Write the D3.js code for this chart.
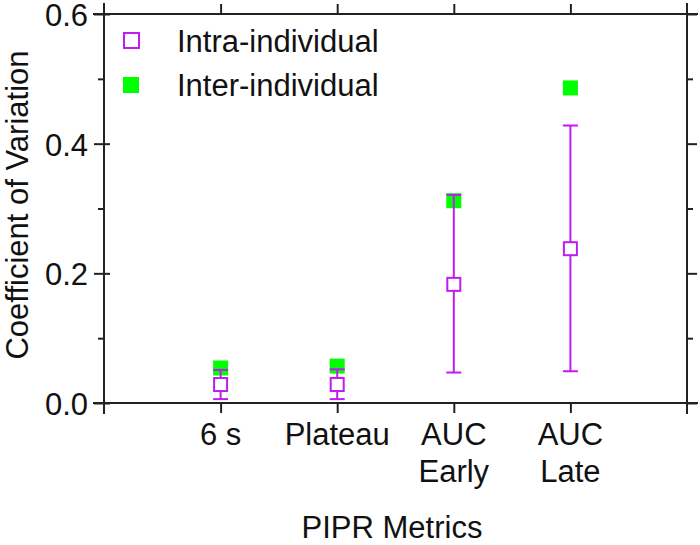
<!DOCTYPE html>
<html>
<head>
<meta charset="utf-8">
<script src="https://cdn.jsdelivr.net/npm/d3@7"></script>
<style>
  html, body { margin: 0; padding: 0; background: #fff; }
  svg { display: block; }
  text { font-family: "Liberation Sans", Arial, sans-serif; fill: #111; }
</style>
</head>
<body>
<svg id="chart" width="700" height="545"></svg>
<script>
// ---- data ----
const categories = ["6 s", "Plateau", "AUC\nEarly", "AUC\nLate"];
const intraMean = [0.0285, 0.0285, 0.183, 0.238];
const intraLow  = [0.006, 0.006, 0.047, 0.049];
const intraHigh = [0.051, 0.052, 0.321, 0.428];
const interCV   = [0.054, 0.057, 0.312, 0.486];
const yMajorTicks = [0, 0.2, 0.4, 0.6];
const yMinorTicks = [0.1, 0.3, 0.5];
const legendLabels = ["Intra-individual", "Inter-individual"];

const purple = "#c01cf0";
const green = "#00ff00";
const axisColor = "#222";
const FS = 31;

const svg = d3.select("#chart");
const L = 104, R = 687, T = 14, B = 403;
const x = d3.scaleLinear().domain([0, categories.length + 1]).range([L, R]);
const y = d3.scaleLinear().domain([0, 0.6]).range([B, T]);
const idx = categories.map((c, i) => i);

function styleAxis(g) {
  g.select(".domain").remove();
  g.selectAll("line").attr("stroke", axisColor).attr("stroke-width", 2);
  g.selectAll("text").attr("font-size", FS).attr("fill", "#111")
    .attr("font-family", '"Liberation Sans", Arial, sans-serif');
}

// left axis (major with labels, outward)
svg.append("g").attr("transform", `translate(${L},0)`)
  .call(d3.axisLeft(y).tickValues(yMajorTicks).tickFormat(d3.format(".1f")).tickSize(10).tickPadding(6))
  .call(styleAxis)
  .call(g => g.selectAll("text").attr("dy", "0.37em"));
// left major inner part
svg.append("g").attr("transform", `translate(${L},0)`)
  .call(d3.axisRight(y).tickValues(yMajorTicks).tickFormat("").tickSize(6))
  .call(styleAxis);
// left minor
svg.append("g").attr("transform", `translate(${L},0)`)
  .call(d3.axisLeft(y).tickValues(yMinorTicks).tickFormat("").tickSize(6))
  .call(styleAxis);
// right axis
svg.append("g").attr("transform", `translate(${R},0)`)
  .call(d3.axisRight(y).tickValues(yMajorTicks).tickFormat("").tickSize(10))
  .call(styleAxis);
svg.append("g").attr("transform", `translate(${R},0)`)
  .call(d3.axisRight(y).tickValues(yMinorTicks).tickFormat("").tickSize(6))
  .call(styleAxis);
// top axis
svg.append("g").attr("transform", `translate(0,${T})`)
  .call(d3.axisTop(x).tickValues(idx.map(i => i + 1)).tickFormat("").tickSize(10))
  .call(styleAxis);
// bottom axis
svg.append("g").attr("transform", `translate(0,${B})`)
  .call(d3.axisBottom(x).tickValues(idx.map(i => i + 1)).tickFormat("").tickSize(10))
  .call(styleAxis);

// x tick labels (multi-line)
const xl = svg.append("g");
idx.forEach(i => {
  const lines = categories[i].split("\n");
  const t = xl.append("text")
    .attr("x", x(i + 1))
    .attr("y", 445)
    .attr("text-anchor", "middle")
    .attr("font-size", FS);
  lines.forEach((ln, k) => {
    t.append("tspan").attr("x", x(i + 1)).attr("dy", k === 0 ? 0 : 37).text(ln);
  });
});

// frame lines (extending past corners)
const ext = 11;
const frame = svg.append("g").attr("stroke", axisColor).attr("stroke-width", 2);
frame.append("line").attr("x1", L).attr("x2", L).attr("y1", T - ext).attr("y2", B + ext);
frame.append("line").attr("x1", R).attr("x2", R).attr("y1", T - ext).attr("y2", B + ext);
frame.append("line").attr("x1", L - ext).attr("x2", R + ext).attr("y1", T).attr("y2", T);
frame.append("line").attr("x1", L - ext).attr("x2", R + ext).attr("y1", B).attr("y2", B);

// axis titles
svg.append("text")
  .attr("transform", `translate(28,205) rotate(-90)`)
  .attr("text-anchor", "middle")
  .attr("font-size", FS)
  .text("Coefficient of Variation");
svg.append("text")
  .attr("x", 392).attr("y", 538)
  .attr("text-anchor", "middle")
  .attr("font-size", FS)
  .text("PIPR Metrics");

// marks
const S = 15, cap = 15;
const plot = svg.append("g");
// inter-individual (filled green)
plot.selectAll("rect.inter").data(idx).enter().append("rect")
  .attr("class", "inter")
  .attr("x", i => x(i + 1) - S / 2)
  .attr("y", i => y(interCV[i]) - S / 2)
  .attr("width", S).attr("height", S)
  .attr("fill", green);
// error bars
const eb = plot.selectAll("g.eb").data(idx).enter().append("g")
  .attr("stroke", purple).attr("stroke-width", 2).attr("fill", "none");
eb.append("line")
  .attr("x1", i => x(i + 1)).attr("x2", i => x(i + 1))
  .attr("y1", i => y(intraLow[i])).attr("y2", i => y(intraHigh[i]));
eb.append("line")
  .attr("x1", i => x(i + 1) - cap / 2).attr("x2", i => x(i + 1) + cap / 2)
  .attr("y1", i => y(intraLow[i])).attr("y2", i => y(intraLow[i]));
eb.append("line")
  .attr("x1", i => x(i + 1) - cap / 2).attr("x2", i => x(i + 1) + cap / 2)
  .attr("y1", i => y(intraHigh[i])).attr("y2", i => y(intraHigh[i]));
// intra-individual (open squares)
plot.selectAll("rect.intra").data(idx).enter().append("rect")
  .attr("class", "intra")
  .attr("x", i => x(i + 1) - S / 2 + 1)
  .attr("y", i => y(intraMean[i]) - S / 2 + 1)
  .attr("width", S - 2).attr("height", S - 2)
  .attr("fill", "#fff").attr("stroke", purple).attr("stroke-width", 2);

// legend
const lg = svg.append("g");
lg.append("rect").attr("x", 124).attr("y", 33).attr("width", 15).attr("height", 15)
  .attr("fill", "#fff").attr("stroke", purple).attr("stroke-width", 2);
lg.append("rect").attr("x", 123).attr("y", 77).attr("width", 16).attr("height", 16)
  .attr("fill", green);
lg.append("text").attr("x", 177).attr("y", 52).attr("font-size", FS).text(legendLabels[0]);
lg.append("text").attr("x", 177).attr("y", 96).attr("font-size", FS).text(legendLabels[1]);
</script>
</body>
</html>
